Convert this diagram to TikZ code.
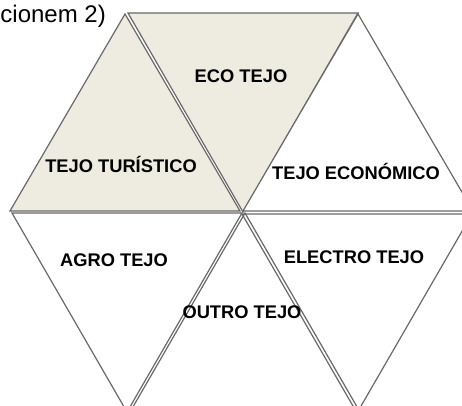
\documentclass[tikz,border=0pt]{standalone}
\usepackage{fontspec}
\setmainfont{Liberation Sans}
\usepackage{tikz}
\usetikzlibrary{positioning}
\definecolor{tjline}{RGB}{105,105,105}
\definecolor{tjbeige}{RGB}{238,236,225}
\tikzstyle{tri} = [draw=tjline, line width=1.2pt, line join=miter, fill=white]
\tikzstyle{trishade} = [tri, fill=tjbeige]
\tikzstyle{tjlabel} = [font=\fontsize{18.3}{21}\selectfont\bfseries, text height=13.1pt, text depth=0pt, inner sep=0pt]

\begin{document}
\begin{tikzpicture}[x=1pt, y=-1pt]
\useasboundingbox (0,0) rectangle (462,405);
\clip (0,0) rectangle (462,405);
% Top row
\draw[trishade] (125,14) -- (240,211) -- (10,211) -- cycle;
\draw[trishade] (128,13) -- (358,13) -- (243,212) -- cycle;
\draw[tri] (358,14) -- (473,211) -- (243,211) -- cycle;
% Bottom row
\draw[tri] (12,213) -- (242,213) -- (127,412) -- cycle;
\draw[tri] (242,214) -- (472,214) -- (357,413) -- cycle;
\draw[tri, fill=none] (245,213) -- (360,412) -- (130,412) -- cycle;

% Labels
\node (eco) [tjlabel] at (241,76) {ECO TEJO};
\node (turistico) [tjlabel] at (121,166) {TEJO TURÍSTICO};
\node (economico) [tjlabel] at (356,173) {TEJO ECONÓMICO};
\node (agro) [tjlabel] at (114,260) {AGRO TEJO};
\node (electro) [tjlabel] at (354,257) {ELECTRO TEJO};
\node (outro) [tjlabel] at (242,312) {OUTRO TEJO};
\node (caption) [anchor=base east, inner sep=0pt, font=\fontsize{24}{28}\selectfont] at (106,22) {cionem 2)};
\end{tikzpicture}
\end{document}
